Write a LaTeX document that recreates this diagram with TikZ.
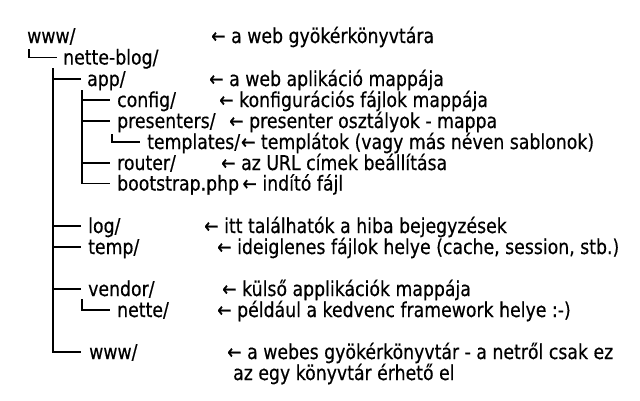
\documentclass[tikz,border=0pt]{standalone}
\usepackage{fontspec}
\setmainfont{DejaVu Sans}
\newfontfamily\thickfont[FakeBold=0.5]{DejaVu Sans}
\newcommand\vtxt[1]{\scalebox{1}[1.18]{#1}}
\begin{document}
\begin{tikzpicture}[x=1pt,y=-1pt,
  item/.style={anchor=base west,inner sep=0pt,font=\thickfont\fontsize{17.3}{20}\selectfont},
  tree/.style={line width=1.5pt,line cap=butt}]
\useasboundingbox[fill=white] (0,0) rectangle (640,400);
% folder names
\node[item] (www) at (27,43) {\vtxt{www/}};
\node[item] (nb) at (63,64.5) {\vtxt{nette-blog/}};
\node[item] (app) at (87,86) {\vtxt{app/}};
\node[item] (config) at (117,107) {\vtxt{config/}};
\node[item] (pres) at (117,128) {\vtxt{presenters/}};
\node[item] (tpl) at (147,149) {\vtxt{templates/}};
\node[item] (router) at (117,170) {\vtxt{router/}};
\node[item] (boot) at (117,190.5) {\vtxt{bootstrap.php}};
\node[item] (log) at (88,233) {\vtxt{log/}};
\node[item] (temp) at (88,254) {\vtxt{temp/}};
\node[item] (vendor) at (88,296) {\vtxt{vendor/}};
\node[item] (nette) at (117,317) {\vtxt{nette/}};
\node[item] (www2) at (89,359) {\vtxt{www/}};
% comments
\node[item] (c0) at (211,43) {\vtxt{← a web gyökérkönyvtára}};
\node[item] (c2) at (209,86) {\vtxt{← a web aplikáció mappája}};
\node[item] (c3) at (219,107) {\vtxt{← konfigurációs fájlok mappája}};
\node[item] (c4) at (229,128) {\vtxt{← presenter osztályok - mappa}};
\node[item, anchor=base west] (c5) at ([xshift=0.5pt]tpl.base east) {\vtxt{← templátok (vagy más néven sablonok)}};
\node[item] (c6) at (221,170) {\vtxt{← az URL címek beállítása}};
\node[item, anchor=base west] (c7) at ([xshift=3pt]boot.base east) {\vtxt{← indító fájl}};
\node[item] (c9) at (204,233) {\vtxt{← itt találhatók a hiba bejegyzések}};
\node[item] (c10) at (217,254) {\vtxt{← ideiglenes fájlok helye (cache, session, stb.)}};
\node[item] (c12) at (222,296) {\vtxt{← külső applikációk mappája}};
\node[item] (c13) at (217,317) {\vtxt{← például a kedvenc framework helye :-)}};
\node[item] (c15) at (227,359) {\vtxt{← a webes gyökérkönyvtár - a netről csak ez}};
\node[item] (c16) at (233,380) {\vtxt{az egy könyvtár érhető el}};
% trunk tops
\coordinate (t0) at (29,49);
\coordinate (t1) at (53,68);
\coordinate (t2) at (82,90);
\coordinate (t3) at (112,134);
\coordinate (t4) at (82,299);
% tree lines
\draw[tree] (t0) |- ([shift={(-6pt,7pt)}]nb.base west);
\draw[tree] (t1) |- ([shift={(-6.5pt,7pt)}]app.base west);
\draw[tree] (t1) |- ([shift={(-7.5pt,7pt)}]log.base west);
\draw[tree] (t1) |- ([shift={(-7.5pt,7pt)}]temp.base west);
\draw[tree] (t1) |- ([shift={(-7.5pt,7pt)}]vendor.base west);
\draw[tree] (t1) |- ([shift={(-8.5pt,7pt)}]www2.base west);
\draw[tree] (t2) |- ([shift={(-7pt,7pt)}]config.base west);
\draw[tree] (t2) |- ([shift={(-7pt,7pt)}]pres.base west);
\draw[tree] (t2) |- ([shift={(-7pt,7pt)}]router.base west);
\draw[tree] (t2) |- ([shift={(-7pt,7pt)}]boot.base west);
\draw[tree] (t3) |- ([shift={(-7pt,7pt)}]tpl.base west);
\draw[tree] (t4) |- ([shift={(-7pt,7pt)}]nette.base west);
\end{tikzpicture}
\end{document}
